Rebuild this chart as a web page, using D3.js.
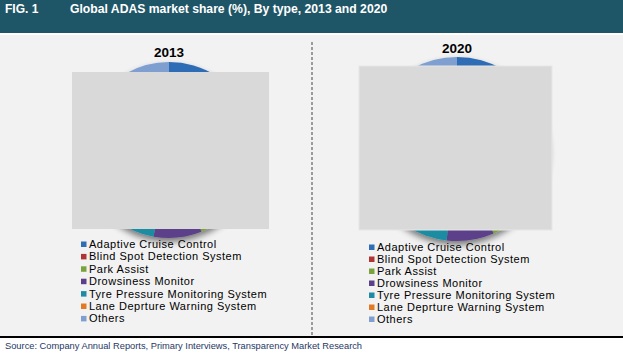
<!DOCTYPE html>
<html><head><meta charset="utf-8">
<script src="https://cdn.jsdelivr.net/npm/d3@7"></script>
<style>body{margin:0;background:#fff}svg{display:block;font-family:"Liberation Sans",Arial,sans-serif}</style>
</head><body><svg id="c" width="623" height="360"></svg>
<script>
const categories = ["Adaptive Cruise Control","Blind Spot Detection System","Park Assist","Drowsiness Monitor","Tyre Pressure Monitoring System","Lane Deprture Warning System","Others"];
const years = ["2013","2020"];
const share2013 = [18, 14, 12, 8.8, 30, 9, 8.2];
const share2020 = [17, 14, 12.5, 8.3, 31, 9, 8.2];
const colors = ["#2f6db5","#b03434","#7aa33d","#5c3f8a","#1f8ca3","#e27a25","#7f9fd1"];

const svg = d3.select("#c");
const defs = svg.append("defs");
const f = defs.append("filter").attr("id","sh").attr("x","-30%").attr("y","-30%").attr("width","160%").attr("height","170%");
f.append("feGaussianBlur").attr("in","SourceAlpha").attr("stdDeviation",3).attr("result","b");
f.append("feOffset").attr("in","b").attr("dy",4).attr("result","o");
f.append("feComponentTransfer").attr("in","o").attr("result","o2").append("feFuncA").attr("type","linear").attr("slope",0.5);
const m = f.append("feMerge"); m.append("feMergeNode").attr("in","o2"); m.append("feMergeNode").attr("in","SourceGraphic");

svg.append("rect").attr("width",623).attr("height",336).attr("fill","#f2f2f2");
svg.append("rect").attr("width",623).attr("height",33).attr("fill","#1f5667");
svg.append("rect").attr("y",33).attr("width",623).attr("height",2).attr("fill","#ffffff");
svg.append("text").attr("x",5).attr("y",12.5).attr("fill","#fff").attr("font-weight","bold").attr("font-size",12).text("FIG. 1");
svg.append("text").attr("x",70).attr("y",12.5).attr("fill","#fff").attr("font-weight","bold").attr("font-size",12.2).text("Global ADAS market share (%), By type, 2013 and 2020");

svg.append("line").attr("x1",312).attr("x2",312).attr("y1",42).attr("y2",335).attr("stroke","#7f7f7f").attr("stroke-width",1.5).attr("stroke-dasharray","3,2");
svg.append("rect").attr("y",336).attr("width",623).attr("height",2).attr("fill","#000");
svg.append("text").attr("x",5).attr("y",348.5).attr("fill","#1f3864").attr("font-size",9.3).text("Source: Company Annual Reports, Primary Interviews, Transparency Market Research");

const panels = [
  {data: share2013, cx:169, cy:150, r:88, ty:57, rect:[72,72,197,157], sx:81, tx:89, ly:244, ld:12.4},
  {data: share2020, cx:457, cy:149, r:92, ty:53, rect:[359,66,193,164], sx:369, tx:377, ly:247, ld:12}
];
const pie = d3.pie().sort(null).value(d=>d);
panels.forEach((p,i)=>{
  const g = svg.append("g").attr("transform",`translate(${p.cx},${p.cy})`);
  const arc = d3.arc().innerRadius(0).outerRadius(p.r);
  const gg = g.append("g").attr("filter","url(#sh)");
  gg.selectAll("path").data(pie(p.data)).join("path").attr("d",arc).attr("fill",(d,j)=>colors[j]);
  svg.append("text").attr("x",p.cx).attr("y",p.ty).attr("text-anchor","middle").attr("font-weight","bold").attr("font-size",13.5).attr("fill","#000").text(years[i]);
  svg.append("rect").attr("x",p.rect[0]).attr("y",p.rect[1]).attr("width",p.rect[2]).attr("height",p.rect[3]).attr("fill","#d9d9d9").attr("stroke", i===1?"#e6e6e6":"none").attr("stroke-width",1);
  const lg = svg.append("g");
  categories.forEach((c,j)=>{
    const y = p.ly + j*p.ld;
    lg.append("rect").attr("x",p.sx).attr("y",y-2.5).attr("width",5.5).attr("height",5.5).attr("fill",colors[j]);
    lg.append("text").attr("x",p.tx).attr("y",y+4).attr("font-size",11).attr("letter-spacing",0.5).attr("fill","#000").text(c);
  });
});
</script></body></html>
